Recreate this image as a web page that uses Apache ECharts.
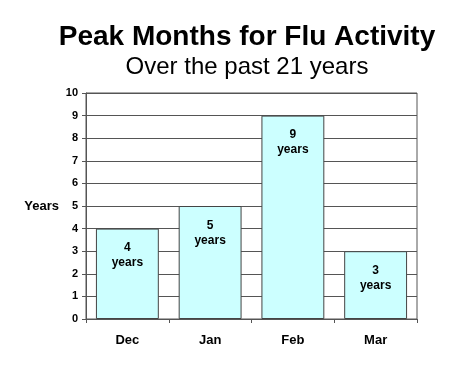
<!DOCTYPE html>
<html><head><meta charset="utf-8">
<script src="https://cdn.jsdelivr.net/npm/echarts@6/dist/echarts.min.js"></script>
<style>html,body{margin:0;padding:0;background:#fff}#c{width:474px;height:371px}</style>
</head><body><div id="c"></div>
<script>
const categories = ['Dec', 'Jan', 'Feb', 'Mar'];
const peakYears = [4, 5, 9, 3];
const yTicks = [0, 1, 2, 3, 4, 5, 6, 7, 8, 9, 10];

const chart = echarts.init(document.getElementById('c'));
const font = 'Arial, "Liberation Sans", sans-serif';
chart.setOption({
  animation: false,
  backgroundColor: '#fff',
  title: [
    { text: 'Peak Months for Flu Activity', left: 242, top: 18, textAlign: 'center',
      textStyle: { fontFamily: font, fontSize: 28, fontWeight: 'bold', color: '#000' } },
    { text: 'Over the past 21 years', left: 242, top: 50, textAlign: 'center',
      textStyle: { fontFamily: font, fontSize: 24, fontWeight: 'normal', color: '#000' } }
  ],
  grid: { left: 86, right: 57, top: 93, bottom: 52, show: true, borderColor: '#555', borderWidth: 1 },
  xAxis: {
    type: 'category', data: categories,
    axisLine: { lineStyle: { color: '#555' } },
    axisTick: { show: true, length: 4, lineStyle: { color: '#555' } },
    axisLabel: { fontFamily: font, fontSize: 13, fontWeight: 'bold', color: '#000', margin: 15 }
  },
  yAxis: {
    type: 'value', min: yTicks[0], max: yTicks[yTicks.length - 1], interval: 1,
    name: 'Years', nameLocation: 'middle', nameRotate: 0, nameGap: 27,
    nameTextStyle: { fontFamily: font, fontSize: 13, fontWeight: 'bold', color: '#000' },
    axisLine: { show: true, lineStyle: { color: '#555' } },
    axisTick: { show: true, length: 4, lineStyle: { color: '#555' } },
    axisLabel: { fontFamily: font, fontSize: 11, fontWeight: 'bold', color: '#000', margin: 8 },
    splitLine: { show: true, lineStyle: { color: '#555', width: 1 } }
  },
  series: [{
    type: 'bar', data: peakYears, barCategoryGap: '24%',
    itemStyle: { color: '#ccffff', borderColor: '#444', borderWidth: 1 },
    label: {
      show: true, position: 'insideTop', distance: 12,
      formatter: p => p.value + '\nyears',
      fontFamily: font, fontSize: 12, fontWeight: 'bold', color: '#000', lineHeight: 15
    }
  }]
});
</script></body></html>
